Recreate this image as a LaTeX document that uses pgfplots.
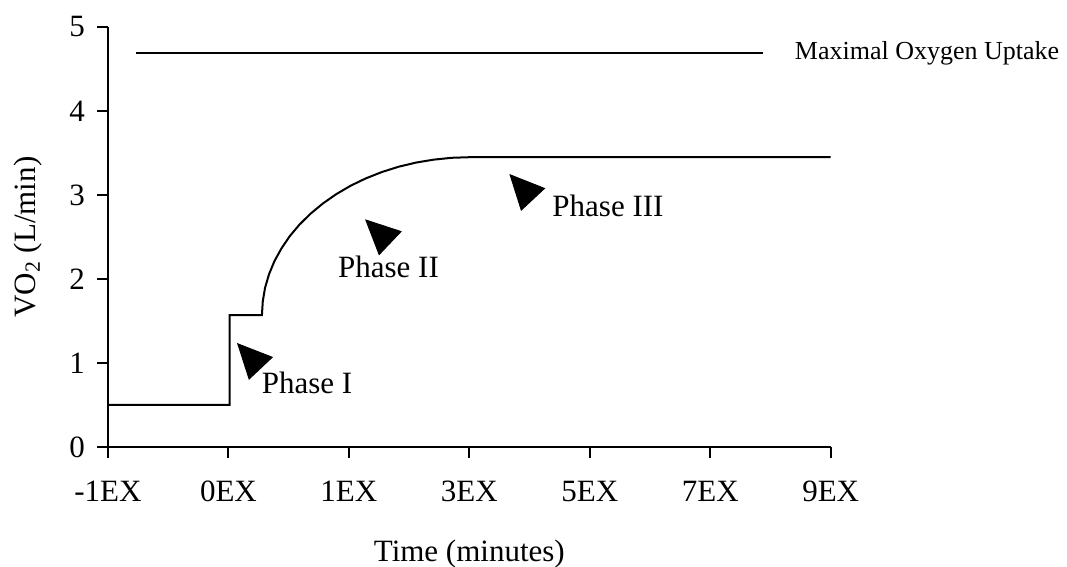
\documentclass[border=0pt]{standalone}
\usepackage{pgfplots}
\pgfplotsset{compat=1.18}
\usepackage{fontspec}
\setmainfont{Liberation Serif}
\usetikzlibrary{arrows.meta}

\pgfplotstableread{
x y
0 0.5
1.01 0.5
1.01 1.57
1.278 1.570
1.285 1.734
1.304 1.896
1.337 2.057
1.382 2.213
1.440 2.364
1.509 2.510
1.590 2.648
1.682 2.778
1.784 2.899
1.895 3.010
2.014 3.110
2.141 3.198
2.275 3.274
2.414 3.337
2.558 3.386
2.705 3.421
2.854 3.443
3.005 3.450
6 3.450
}\vodata

\pgfplotstableread{
x y
0.23 4.69
5.44 4.69
}\maxdata

\begin{document}
\begin{tikzpicture}
\useasboundingbox (-54pt,-60pt) rectangle (479.5pt,223.5pt);
\begin{axis}[
  scale only axis,
  width=361.35pt, height=210pt,
  xmin=0, xmax=6, ymin=0, ymax=5,
  axis x line*=bottom, axis y line*=left,
  axis line style={line width=1pt},
  xtick={0,1,2,3,4,5,6},
  xticklabels={-1EX,0EX,1EX,3EX,5EX,7EX,9EX},
  ytick={0,1,2,3,4,5},
  tick align=outside,
  major tick length=5.5pt,
  tick style={line width=1pt, black},
  font=\fontsize{15.5}{18}\selectfont,
  /pgf/number format/assume math mode=true,
  xticklabel style={yshift=-8pt},
  yticklabel style={xshift=-2.5pt},
  xlabel={Time (minutes)},
  xlabel style={at={(axis description cs:0.5,0)}, anchor=center, yshift=-53.5pt},
  ylabel={VO\textsubscript{2} (L/min)},
  ylabel style={at={(axis description cs:0,0.5)}, anchor=center, yshift=40pt},
  clip=false,
]
\addplot[black, line width=1pt, no marks] table[x=x,y=y] {\vodata};
\addplot[black, line width=1pt, no marks] table[x=x,y=y] {\maxdata};
\node[anchor=west, font=\fontsize{13}{15}\selectfont, inner sep=0pt] at (axis cs:5.70,4.69) {Maximal Oxygen Uptake};

\draw[black, line width=0.5pt, -{Triangle[length=17.5pt,width=16.5pt]}] (axis cs:1.270,0.935) -- (axis cs:1.071,1.238);
\draw[black, line width=0.5pt, -{Triangle[length=17.5pt,width=16.5pt]}] (axis cs:2.330,2.444) -- (axis cs:2.134,2.711);
\draw[black, line width=0.5pt, -{Triangle[length=17.5pt,width=16.5pt]}] (axis cs:3.518,2.964) -- (axis cs:3.332,3.250);

\node[anchor=center] at (axis cs:1.652,0.762) {Phase I};
\node[anchor=center] at (axis cs:2.329,2.149) {Phase II};
\node[anchor=center] at (axis cs:4.151,2.869) {Phase III};
\end{axis}
\end{tikzpicture}
\end{document}
